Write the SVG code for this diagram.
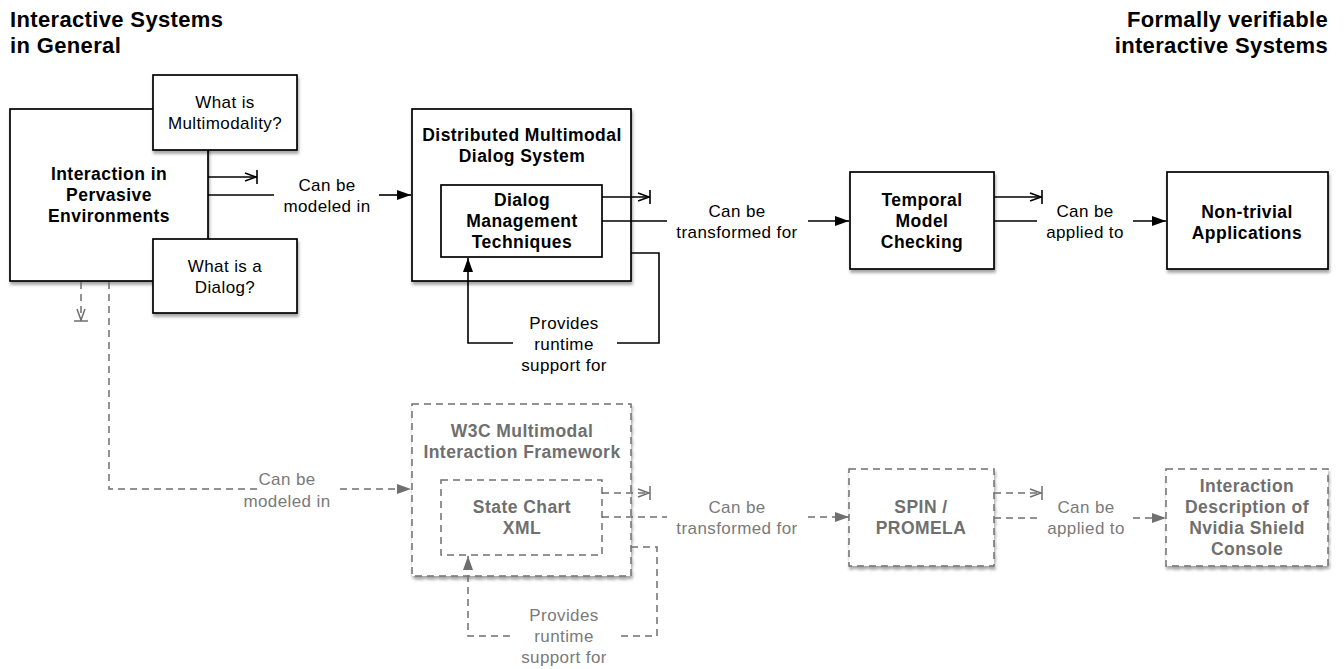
<svg xmlns="http://www.w3.org/2000/svg" width="1344" height="669" viewBox="0 0 1344 669">
  <style>
    text { font-family: "Liberation Sans", Arial, Helvetica, sans-serif; font-size: 17px; text-anchor: middle; }
    .hd { font-size: 22px; font-weight: bold; fill: #000; text-anchor: start; letter-spacing: 0.35px; }
    .hdr { text-anchor: end; }
    .b { font-weight: bold; fill: #000; font-size: 17.5px; letter-spacing: 0.45px; }
    .r { fill: #000; letter-spacing: 0.4px; }
    .bg { font-weight: bold; fill: #6f6f6f; font-size: 17.5px; letter-spacing: 0.45px; }
    .rg { fill: #7a7a7a; letter-spacing: 0.4px; }
    .box { fill: #fff; stroke: #000; stroke-width: 1.7; }
    .dbox { fill: #fff; stroke: #6f6f6f; stroke-width: 1.5; stroke-dasharray: 7 5; }
    .ln { fill: none; stroke: #000; stroke-width: 1.6; }
    .dl { fill: none; stroke: #6f6f6f; stroke-width: 1.5; stroke-dasharray: 7 5; }
    .sh { filter: url(#shadow); }
  </style>
  <defs>
    <filter id="shadow" x="-10%" y="-10%" width="125%" height="130%">
      <feDropShadow dx="1" dy="3" stdDeviation="1.6" flood-color="#000" flood-opacity="0.35"/>
    </filter>
    <marker id="arr" viewBox="0 0 14 10" refX="14" refY="5" markerWidth="14" markerHeight="10" markerUnits="userSpaceOnUse" orient="auto">
      <path d="M0,0 L14,5 L0,10 z" fill="#000"/>
    </marker>
    <marker id="arr-g" viewBox="0 0 14 10" refX="14" refY="5" markerWidth="14" markerHeight="10" markerUnits="userSpaceOnUse" orient="auto">
      <path d="M0,0 L14,5 L0,10 z" fill="#6f6f6f"/>
    </marker>
    <marker id="bar" viewBox="0 -8 16 16" refX="13" refY="0" markerWidth="16" markerHeight="16" markerUnits="userSpaceOnUse" orient="auto">
      <path d="M1,-4 L12,0 L1,4 M13,-7 L13,7" fill="none" stroke="#000" stroke-width="1.6"/>
    </marker>
    <marker id="bar-g" viewBox="0 -8 16 16" refX="13" refY="0" markerWidth="16" markerHeight="16" markerUnits="userSpaceOnUse" orient="auto">
      <path d="M1,-4 L12,0 L1,4 M13,-7 L13,7" fill="none" stroke="#6f6f6f" stroke-width="1.5"/>
    </marker>
  </defs>

  <!-- column headings -->
  <g id="headings">
    <text class="hd" x="10" y="27">Interactive Systems</text>
    <text class="hd" x="10" y="53">in General</text>
    <text class="hd hdr" x="1328" y="27">Formally verifiable</text>
    <text class="hd hdr" x="1328" y="53">interactive Systems</text>
  </g>

  <!-- upper row nodes -->
  <g id="pervasive">
    <rect class="box sh" x="10" y="109" width="198" height="172"/>
    <text class="b" x="109" y="180">Interaction in</text>
    <text class="b" x="109" y="201">Pervasive</text>
    <text class="b" x="109" y="222">Environments</text>
  </g>
  <g id="multimodality">
    <rect class="box sh" x="153" y="75" width="144" height="75"/>
    <text class="r" x="225" y="108">What is</text>
    <text class="r" x="225" y="129">Multimodality?</text>
  </g>
  <g id="dialog">
    <rect class="box sh" x="153" y="239" width="144" height="74"/>
    <text class="r" x="225" y="272">What is a</text>
    <text class="r" x="225" y="293">Dialog?</text>
  </g>
  <g id="dmds">
    <rect class="box sh" x="412" y="109" width="219" height="172"/>
    <text class="b" x="522" y="141">Distributed Multimodal</text>
    <text class="b" x="522" y="162">Dialog System</text>
  </g>
  <g id="dm-techniques">
    <rect class="box" x="441" y="185" width="161" height="72"/>
    <text class="b" x="522" y="206">Dialog</text>
    <text class="b" x="522" y="227">Management</text>
    <text class="b" x="522" y="248">Techniques</text>
  </g>
  <g id="model-checking">
    <rect class="box sh" x="850" y="172" width="144" height="97"/>
    <text class="b" x="922" y="206">Temporal</text>
    <text class="b" x="922" y="227">Model</text>
    <text class="b" x="922" y="248">Checking</text>
  </g>
  <g id="applications">
    <rect class="box sh" x="1167" y="172" width="161" height="97"/>
    <text class="b" x="1247" y="218">Non-trivial</text>
    <text class="b" x="1247" y="239">Applications</text>
  </g>

  <!-- lower row nodes -->
  <g id="w3c-mmi">
    <rect class="dbox sh" x="412" y="404" width="219" height="172"/>
    <text class="bg" x="522" y="437">W3C Multimodal</text>
    <text class="bg" x="522" y="458">Interaction Framework</text>
  </g>
  <g id="scxml">
    <rect class="dbox" x="441" y="480" width="161" height="75"/>
    <text class="bg" x="522" y="513">State Chart</text>
    <text class="bg" x="522" y="534">XML</text>
  </g>
  <g id="spin">
    <rect class="dbox sh" x="849" y="469" width="145" height="97"/>
    <text class="bg" x="921" y="513">SPIN /</text>
    <text class="bg" x="921" y="534">PROMELA</text>
  </g>
  <g id="nvidia-shield">
    <rect class="dbox sh" x="1166" y="469" width="162" height="97"/>
    <text class="bg" x="1247" y="492">Interaction</text>
    <text class="bg" x="1247" y="513">Description of</text>
    <text class="bg" x="1247" y="534">Nvidia Shield</text>
    <text class="bg" x="1247" y="555">Console</text>
  </g>

  <!-- connectors (drawn last so they cross the container frames) -->
  <g id="connectors">
    <!-- upper row -->
    <line class="ln" x1="208" y1="177" x2="257" y2="177" marker-end="url(#bar)"/>
    <line class="ln" x1="208" y1="195" x2="274" y2="195"/>
    <line class="ln" x1="379" y1="195" x2="411" y2="195" marker-end="url(#arr)"/>
    <text class="r" x="327" y="191">Can be</text>
    <text class="r" x="327" y="212">modeled in</text>

    <line class="ln" x1="602" y1="197" x2="650" y2="197" marker-end="url(#bar)"/>
    <line class="ln" x1="602" y1="221" x2="667" y2="221"/>
    <line class="ln" x1="808" y1="221" x2="849" y2="221" marker-end="url(#arr)"/>
    <text class="r" x="737" y="217">Can be</text>
    <text class="r" x="737" y="238">transformed for</text>

    <polyline class="ln" points="631,253 659,253 659,343 617,343"/>
    <polyline class="ln" points="513,343 468,343 468,258" marker-end="url(#arr)"/>
    <text class="r" x="564" y="329">Provides</text>
    <text class="r" x="564" y="350">runtime</text>
    <text class="r" x="564" y="371">support for</text>

    <line class="ln" x1="994" y1="197" x2="1042" y2="197" marker-end="url(#bar)"/>
    <line class="ln" x1="994" y1="221" x2="1037" y2="221"/>
    <line class="ln" x1="1133" y1="221" x2="1166" y2="221" marker-end="url(#arr)"/>
    <text class="r" x="1085" y="217">Can be</text>
    <text class="r" x="1085" y="238">applied to</text>

    <!-- lower row -->
    <line class="dl" x1="81" y1="282" x2="81" y2="321" marker-end="url(#bar-g)"/>
    <polyline class="dl" points="109,282 109,489 258,489"/>
    <line class="dl" x1="340" y1="489" x2="411" y2="489" marker-end="url(#arr-g)"/>
    <text class="rg" x="287" y="485">Can be</text>
    <text class="rg" x="287" y="507">modeled in</text>

    <line class="dl" x1="602" y1="493" x2="650" y2="493" marker-end="url(#bar-g)"/>
    <line class="dl" x1="602" y1="517" x2="667" y2="517"/>
    <line class="dl" x1="808" y1="517" x2="849" y2="517" marker-end="url(#arr-g)"/>
    <text class="rg" x="737" y="513">Can be</text>
    <text class="rg" x="737" y="534">transformed for</text>

    <polyline class="dl" points="631,547 657,547 657,636 618,636"/>
    <polyline class="dl" points="510,636 468,636 468,556" marker-end="url(#arr-g)"/>
    <text class="rg" x="564" y="621">Provides</text>
    <text class="rg" x="564" y="642">runtime</text>
    <text class="rg" x="564" y="663">support for</text>

    <line class="dl" x1="994" y1="493" x2="1042" y2="493" marker-end="url(#bar-g)"/>
    <line class="dl" x1="994" y1="518" x2="1038" y2="518"/>
    <line class="dl" x1="1133" y1="518" x2="1166" y2="518" marker-end="url(#arr-g)"/>
    <text class="rg" x="1086" y="513">Can be</text>
    <text class="rg" x="1086" y="534">applied to</text>
  </g>
</svg>
